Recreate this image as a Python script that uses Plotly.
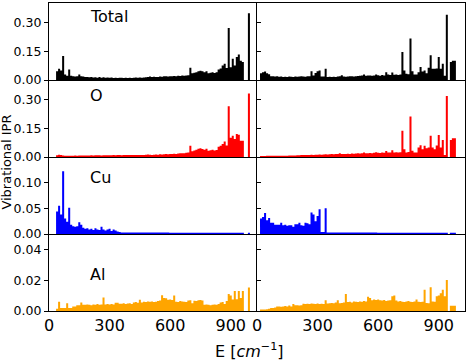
import plotly.graph_objects as go
from plotly.subplots import make_subplots

# bin centres, cm^-1
energy = list(range(0, 1000, 10))

total_left = [
    0, 0, 0, 0, 0.046, 0.058, 0.05, 0.125, 0.028, 0.022,
    0.055, 0.022, 0.02, 0.018, 0.02, 0.028, 0.02, 0.018, 0.015, 0.016,
    0.014, 0.015, 0.013, 0.014, 0.012, 0.016, 0.012, 0.014, 0.012, 0.013,
    0.012, 0.013, 0.011, 0.012, 0.011, 0.012, 0.012, 0.011, 0.012, 0.011,
    0.012, 0.011, 0.012, 0.013, 0.012, 0.013, 0.012, 0.013, 0.014, 0.016,
    0.018, 0.016, 0.017, 0.015, 0.016, 0.018, 0.017, 0.019, 0.02, 0.018,
    0.02, 0.019, 0.021, 0.02, 0.022, 0.021, 0.023, 0.022, 0.024, 0.025,
    0.063, 0.035, 0.038, 0.04, 0.045, 0.048, 0.045, 0.04, 0.046, 0.035,
    0.038, 0.04, 0.036, 0.04, 0.055, 0.06, 0.075, 0.084, 0.062, 0.27,
    0.066, 0.11, 0.075, 0.12, 0.133, 0.1, 0.093, 0, 0, 0.347,
]
o_left = [
    0, 0, 0, 0, 0.009, 0.012, 0.011, 0.008, 0.007, 0.007,
    0.007, 0.007, 0.007, 0.008, 0.007, 0.008, 0.008, 0.008, 0.008, 0.008,
    0.008, 0.009, 0.008, 0.009, 0.009, 0.009, 0.008, 0.009, 0.009, 0.009,
    0.009, 0.009, 0.01, 0.009, 0.01, 0.01, 0.009, 0.01, 0.01, 0.01,
    0.01, 0.01, 0.01, 0.011, 0.01, 0.011, 0.01, 0.011, 0.012, 0.013,
    0.012, 0.011, 0.012, 0.013, 0.012, 0.014, 0.013, 0.014, 0.015, 0.014,
    0.016, 0.015, 0.017, 0.016, 0.018, 0.019, 0.02, 0.019, 0.022, 0.023,
    0.058, 0.03, 0.034, 0.038, 0.043, 0.045, 0.042, 0.038, 0.043, 0.032,
    0.035, 0.038, 0.034, 0.037, 0.053, 0.058, 0.067, 0.08, 0.06, 0.263,
    0.1, 0.11, 0.093, 0.12, 0.116, 0.084, 0.084, 0, 0, 0.33,
]
cu_left = [
    0, 0, 0, 0, 0.044, 0.055, 0.038, 0.122, 0.03, 0.024,
    0.051, 0.018, 0.015, 0.014, 0.015, 0.023, 0.018, 0.012, 0.01, 0.011,
    0.009, 0.01, 0.008, 0.011, 0.009, 0.008, 0.014, 0.009, 0.007, 0.009,
    0.01, 0.006, 0.009, 0.007, 0.005, 0.004, 0.003, 0.003, 0.003, 0.003,
    0.003, 0.003, 0.003, 0.003, 0.003, 0.003, 0.003, 0.003, 0.003, 0.003,
    0.0028, 0.0028, 0.0028, 0.0028, 0.0028, 0.0028, 0.0028, 0.0028, 0.0028, 0.0028,
    0.0025, 0.0025, 0.0025, 0.0025, 0.0025, 0.0025, 0.0025, 0.0025, 0.0025, 0.0025,
    0.0025, 0.0025, 0.0025, 0.0025, 0.0025, 0.0025, 0.0025, 0.0025, 0.0025, 0.0025,
    0.0025, 0.0025, 0.0025, 0.0025, 0.0025, 0.0025, 0.0025, 0.0025, 0.0025, 0.0025,
    0.0025, 0.0025, 0.0025, 0.0025, 0.0025, 0.0025, 0.0025, 0, 0, 0.0025,
]
al_left = [
    0, 0, 0, 0, 0.0015, 0.006, 0.002, 0.002, 0.002, 0.005,
    0.002, 0.002, 0.003, 0.003, 0.0037, 0.0037, 0.0056, 0.004, 0.004, 0.0042,
    0.004, 0.0038, 0.0042, 0.004, 0.0045, 0.004, 0.0042, 0.0088, 0.0043, 0.0045,
    0.0042, 0.0045, 0.0043, 0.0054, 0.0054, 0.0047, 0.0047, 0.005, 0.0046, 0.0048,
    0.005, 0.0045, 0.0056, 0.0058, 0.0054, 0.0073, 0.0056, 0.006, 0.0058, 0.0062,
    0.006, 0.0062, 0.0058, 0.006, 0.0065, 0.0068, 0.0103, 0.0084, 0.0082, 0.0073,
    0.0075, 0.0072, 0.01, 0.006, 0.0058, 0.0065, 0.0062, 0.006, 0.0058, 0.0068,
    0.007, 0.005, 0.0067, 0.0065, 0.007, 0.0072, 0.0068, 0.004, 0.0042, 0.004,
    0.0038, 0.004, 0.0042, 0.004, 0.0045, 0.0056, 0.0058, 0.0045, 0.0065, 0.011,
    0.01, 0.0075, 0.013, 0.0077, 0.013, 0.0085, 0.013, 0, 0, 0.0153,
]

total_right = [
    0, 0, 0.035, 0.04, 0.044, 0.035, 0.03, 0.02, 0.019, 0.018,
    0.019, 0.017, 0.018, 0.016, 0.017, 0.016, 0.018, 0.017, 0.016, 0.018,
    0.017, 0.018, 0.019, 0.018, 0.017, 0.02, 0.019, 0.045, 0.023, 0.037,
    0.046, 0.049, 0.018, 0.018, 0.058, 0.016, 0.017, 0.016, 0.017, 0.016,
    0.018, 0.02, 0.025, 0.018, 0.017, 0.018, 0.019, 0.02, 0.018, 0.02,
    0.021, 0.022, 0.023, 0.028, 0.022, 0.024, 0.023, 0.022, 0.024, 0.028,
    0.025, 0.022, 0.026, 0.023, 0.04, 0.028, 0.026, 0.039, 0.027, 0.028,
    0.026, 0.028, 0.146, 0.049, 0.032, 0.03, 0.216, 0.046, 0.028, 0.028,
    0.04, 0.067, 0.044, 0.049, 0.035, 0.063, 0.128, 0.058, 0.058, 0.06,
    0.12, 0.058, 0.084, 0.022, 0.339, 0, 0.093, 0.1, 0.1, 0,
]
o_right = [
    0, 0, 0.005, 0.005, 0.005, 0.006, 0.006, 0.006, 0.006, 0.006,
    0.006, 0.006, 0.007, 0.007, 0.007, 0.007, 0.008, 0.008, 0.008, 0.008,
    0.009, 0.009, 0.01, 0.01, 0.01, 0.011, 0.011, 0.012, 0.011, 0.012,
    0.012, 0.013, 0.012, 0.013, 0.014, 0.013, 0.014, 0.015, 0.014, 0.015,
    0.016, 0.02, 0.016, 0.015, 0.016, 0.017, 0.016, 0.018, 0.017, 0.018,
    0.019, 0.018, 0.02, 0.024, 0.019, 0.02, 0.021, 0.02, 0.022, 0.025,
    0.022, 0.021, 0.023, 0.022, 0.031, 0.024, 0.023, 0.035, 0.024, 0.025,
    0.023, 0.025, 0.137, 0.04, 0.024, 0.026, 0.21, 0.032, 0.024, 0.024,
    0.05, 0.061, 0.04, 0.058, 0.045, 0.05, 0.11, 0.05, 0.04, 0.06,
    0.114, 0.05, 0.088, 0.01, 0.317, 0, 0.088, 0.098, 0.098, 0,
]
cu_right = [
    0, 0, 0.03, 0.033, 0.041, 0.027, 0.031, 0.022, 0.022, 0.018,
    0.018, 0.018, 0.022, 0.017, 0.018, 0.016, 0.017, 0.017, 0.014, 0.019,
    0.019, 0.022, 0.017, 0.016, 0.022, 0.021, 0.019, 0.042, 0.038, 0.025,
    0.035, 0.048, 0.004, 0.004, 0.05, 0.003, 0.003, 0.003, 0.003, 0.003,
    0.003, 0.003, 0.003, 0.003, 0.003, 0.003, 0.003, 0.003, 0.003, 0.003,
    0.0028, 0.0028, 0.0028, 0.0028, 0.0028, 0.0028, 0.0028, 0.0028, 0.0028, 0.0028,
    0.0025, 0.0025, 0.0025, 0.0025, 0.0025, 0.0025, 0.0025, 0.0025, 0.0025, 0.0025,
    0.0025, 0.0025, 0.0025, 0.0025, 0.0025, 0.0025, 0.0025, 0.0025, 0.0025, 0.0025,
    0.0025, 0.0025, 0.0025, 0.0025, 0.0025, 0.0025, 0.0025, 0.0025, 0.0025, 0.0025,
    0.0025, 0.0025, 0.0025, 0.0025, 0.0025, 0, 0.0025, 0.0025, 0.0025, 0,
]
al_right = [
    0, 0, 0.001, 0.001, 0.001, 0.0012, 0.0015, 0.002, 0.002, 0.0022,
    0.003, 0.003, 0.0028, 0.003, 0.0032, 0.003, 0.0035, 0.003, 0.0045, 0.0037,
    0.0037, 0.0035, 0.0038, 0.0047, 0.0045, 0.0047, 0.0045, 0.0048, 0.0047, 0.0046,
    0.0048, 0.0045, 0.0047, 0.0046, 0.0069, 0.0048, 0.005, 0.0052, 0.005, 0.0055,
    0.0069, 0.005, 0.0052, 0.0055, 0.011, 0.0058, 0.006, 0.0056, 0.0062, 0.006,
    0.0058, 0.0062, 0.006, 0.0065, 0.0062, 0.0092, 0.0085, 0.007, 0.0075, 0.0072,
    0.0074, 0.007, 0.0068, 0.0072, 0.0065, 0.0068, 0.007, 0.0095, 0.01, 0.0068,
    0.0062, 0.0065, 0.006, 0.0058, 0.0062, 0.0065, 0.006, 0.0058, 0.0062, 0.0075,
    0.006, 0.0058, 0.006, 0.0138, 0.0052, 0.005, 0.0155, 0.0062, 0.006, 0.0095,
    0.01, 0.0116, 0.0138, 0.0095, 0.0202, 0, 0.0034, 0.0034, 0.0034, 0,
]

labels = ["Total", "O", "Cu", "Al"]
colors = ["black", "red", "blue", "orange"]
left = [total_left, o_left, cu_left, al_left]
right = [total_right, o_right, cu_right, al_right]
ymax = [0.40, 0.40, 0.15, 0.05]
yticks = [[0, 0.15, 0.30], [0, 0.15, 0.30], [0, 0.05, 0.10], [0, 0.02, 0.04]]
label_y = [0.329, 0.319, 0.11, 0.0234]

font = "DejaVu Sans"
spine = dict(showline=True, linecolor="black", linewidth=1.3,
             showgrid=False, zeroline=False, automargin=False)

# histogram drawn as filled steps: left bin edges, closed at the last right edge
edges = [e - 5 for e in energy] + [energy[-1] + 5]

fig = make_subplots(rows=4, cols=2, shared_xaxes=True, shared_yaxes=True,
                    horizontal_spacing=0, vertical_spacing=0)

for r in range(4):
    for c, data in enumerate([left[r], right[r]]):
        fig.add_trace(go.Scatter(x=edges, y=data + [0], mode="lines",
                                 line=dict(shape="hv", width=0, color=colors[r]),
                                 fill="tozeroy", fillcolor=colors[r],
                                 showlegend=False, hoverinfo="skip"),
                      row=r + 1, col=c + 1)
    fig.update_yaxes(range=[0, ymax[r]], tickvals=yticks[r], tickformat=".2f",
                     row=r + 1)
    fig.add_annotation(x=192, y=label_y[r], text=labels[r], showarrow=False,
                       xanchor="left", yanchor="middle",
                       font=dict(family=font, size=16, color="black"),
                       row=r + 1, col=1)

fig.update_xaxes(range=[0, 1030], tickvals=[0, 300, 600, 900], ticks="",
                 mirror=False, tickfont=dict(family=font, size=16, color="black"),
                 **spine)
fig.update_xaxes(mirror=True, row=1)
fig.update_yaxes(ticklen=4, tickwidth=1.3, tickcolor="black",
                 tickfont=dict(family=font, size=12.5, color="black"), **spine)
fig.update_yaxes(ticks="outside", mirror=False, col=1)
fig.update_yaxes(ticks="inside", showticklabels=False, mirror=True, col=2)

fig.add_annotation(x=-0.101, y=0.485, xref="paper", yref="paper", text="Vibrational IPR",
                   textangle=-90, showarrow=False, xanchor="center", yanchor="middle",
                   font=dict(family=font, size=13, color="black"))
fig.add_annotation(x=0.483, y=-0.127, xref="paper", yref="paper",
                   text="E [<i>cm</i><sup>−1</sup>]", showarrow=False,
                   xanchor="center", yanchor="middle",
                   font=dict(family=font, size=16, color="black"))

fig.update_layout(width=471, height=361, template="none",
                  margin=dict(l=49, r=6, t=3, b=50),
                  plot_bgcolor="white", paper_bgcolor="white")

# page body has a default 8px margin; drop it so the figure fills the window
fig.write_html("out.html", config={"displayModeBar": False},
               post_script="document.body.style.margin = '0';")
